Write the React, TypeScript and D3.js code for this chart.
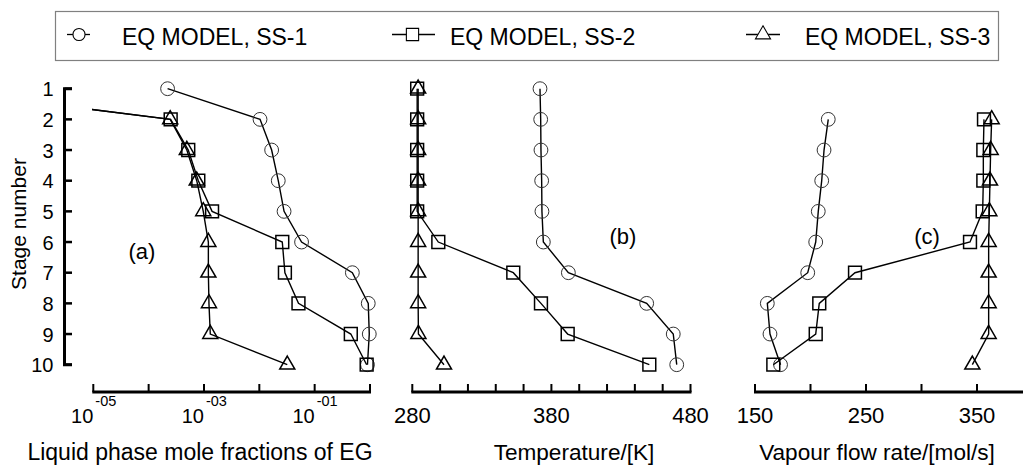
import * as d3 from 'd3';
import React from 'react';

const width = 1023;
const height = 466;
const font = '"Liberation Sans", Arial, Helvetica, sans-serif';
const axisY = 392; // baseline of all three x axes

// stage numbers, top of column (1) to bottom (10)
const stages = [1, 2, 3, 4, 5, 6, 7, 8, 9, 10];
const seriesNames = ['EQ MODEL, SS-1', 'EQ MODEL, SS-2', 'EQ MODEL, SS-3'];

// (a) liquid phase mole fraction of EG, stage 1 of SS-2 / SS-3 is far off scale
const egSS1 = [2.2e-4, 1.03e-2, 1.67e-2, 2.2e-2, 2.8e-2, 5.8e-2, 0.48, 0.93, 0.97, 0.9];
const egSS2 = [1.0e-8, 2.5e-4, 5.2e-4, 7.9e-4, 1.4e-3, 2.6e-2, 2.9e-2, 5.1e-2, 0.45, 0.87];
const egSS3 = [1.0e-8, 2.45e-4, 4.9e-4, 7.4e-4, 9.7e-4, 1.2e-3, 1.2e-3, 1.23e-3, 1.3e-3, 3.2e-2];

// (b) temperature, K
const tempSS1 = [371.8, 372.3, 372.5, 373.0, 373.2, 374.2, 392.2, 448.5, 467.6, 470.1];
const tempSS2 = [283.5, 283.5, 283.5, 283.5, 283.5, 298.7, 352.6, 372.5, 391.7, 450.4];
const tempSS3 = [284.2, 284.2, 284.2, 284.2, 284.2, 284.2, 284.2, 284.2, 284.4, 302.8];

// (c) vapour flow rate, mol/s (no vapour leaving stage 1)
const vapSS1 = [null, 216.0, 212.2, 210.1, 207.0, 204.7, 197.5, 161.1, 163.5, 173.0];
const vapSS2 = [null, 356.3, 355.7, 355.7, 355.1, 343.7, 240.1, 207.9, 204.7, 166.5];
const vapSS3 = [null, 363.2, 362.3, 361.7, 361.1, 360.5, 360.5, 360.5, 360.5, 345.8];

// ticks
const egTicks = [1e-5, 1e-4, 1e-3, 1e-2, 1e-1, 1];
const egLabelValues = [1e-5, 1e-3, 1e-1];
const egLabelExps = ['-05', '-03', '-01'];
const tempTicks = [280, 300, 320, 340, 360, 380, 400, 420, 440, 460, 480];
const tempLabels = [280, 380, 480];
const vapTicks = [150, 200, 250, 300, 350, 400];
const vapLabels = [150, 250, 350];

const yScale = d3.scaleLinear().domain([1, 10]).range([88.7, 364.7]);
const xEG = d3.scaleLog().domain([1e-5, 1]).range([93.3, 370]);
const xTemp = d3.scaleLinear().domain([280, 480]).range([412.3, 690.5]);
const xVap = d3.scaleLinear().domain([150, 400]).range([755, 1032.5]);

const symbols = [d3.symbolCircle, d3.symbolSquare, d3.symbolTriangle];
const symbolSizes = [150, 165, 98];
const symbolPaths = symbols.map((s, i) => d3.symbol().type(s).size(symbolSizes[i])());

function Series({ xScale, values, idx }) {
  const pts = stages
    .map((s, i) => ({ s, v: values[i] }))
    .filter(d => d.v != null);
  const line = d3
    .line()
    .x(d => xScale(d.v))
    .y(d => yScale(d.s));
  return (
    <g>
      <path d={line(pts)} fill="none" stroke="#000" strokeWidth={1.4} />
      {pts.map(d => (
        <path
          key={d.s}
          d={symbolPaths[idx]}
          transform={`translate(${xScale(d.v)},${yScale(d.s)})`}
          fill="none"
          stroke={idx === 0 ? '#333' : '#000'}
          strokeWidth={idx === 0 ? 1 : 1.5}
        />
      ))}
    </g>
  );
}

function XAxis({ scale, ticks, x1 }) {
  const x0 = scale(ticks[0]);
  return (
    <g>
      <line x1={x0 - 1} x2={x1} y1={axisY} y2={axisY} stroke="#000" strokeWidth={3} />
      {ticks.map(t => (
        <line key={t} x1={scale(t)} x2={scale(t)} y1={axisY} y2={axisY - 8} stroke="#000" strokeWidth={2} />
      ))}
    </g>
  );
}

export default function App() {
  const legendX = [
    { x1: 67, x2: 90, m: 79, t: 122 },
    { x1: 392, x2: 435, m: 412.5, t: 450 },
    { x1: 746, x2: 780, m: 763, t: 805 }
  ];

  return (
    <div style={{ position: 'absolute', left: 0, top: 0 }}>
      <svg width={width} height={height} style={{ display: 'block', fontFamily: font }}>
        <defs>
          <clipPath id="clipA">
            <rect x={92} y={0} width={300} height={height} />
          </clipPath>
        </defs>
        <rect width={width} height={height} fill="#fff" />

        {/* legend */}
        <rect x={55.5} y={11.5} width={943} height={49} fill="none" stroke="#808080" strokeWidth={1.2} />
        {seriesNames.map((name, i) => (
          <g key={name}>
            <line x1={legendX[i].x1} x2={legendX[i].x2} y1={34.5} y2={34.5} stroke="#000" strokeWidth={1.3} />
            <path
              d={d3.symbol().type(symbols[i]).size([115, 150, 98][i])()}
              transform={`translate(${legendX[i].m},34.5)`}
              fill="#fff"
              stroke="#000"
              strokeWidth={1.1}
            />
            <text x={legendX[i].t} y={45} fontSize={23}>{name}</text>
          </g>
        ))}

        {/* stage axis, drawn as a bracket */}
        <path
          d={`M72,${yScale(1)} H64.5 V${yScale(10)} H72`}
          fill="none"
          stroke="#000"
          strokeWidth={3}
        />
        {stages.map(s => (
          <g key={s}>
            <line x1={64.5} x2={72} y1={yScale(s)} y2={yScale(s)} stroke="#000" strokeWidth={2.5} />
            <text x={53.5} y={yScale(s) + 7.5} fontSize={20} textAnchor="end">{s}</text>
          </g>
        ))}
        <text transform="translate(26,224) rotate(-90)" fontSize={21} textAnchor="middle">
          Stage number
        </text>

        {/* (a) mole fractions */}
        <g clipPath="url(#clipA)">
          <Series xScale={xEG} values={egSS1} idx={0} />
          <Series xScale={xEG} values={egSS2} idx={1} />
          <Series xScale={xEG} values={egSS3} idx={2} />
        </g>
        <XAxis scale={xEG} ticks={egTicks} x1={xEG(1) + 1} />
        {egLabelValues.map((v, i) => (
          <g key={v}>
            <text x={xEG(v)} y={423} fontSize={20} textAnchor="end">10</text>
            <text x={xEG(v) + 2} y={406} fontSize={14.5}>{egLabelExps[i]}</text>
          </g>
        ))}
        <text x={142} y={259} fontSize={22} textAnchor="middle">(a)</text>
        <text x={200} y={460} fontSize={23} textAnchor="middle">Liquid phase mole fractions of EG</text>

        {/* (b) temperature */}
        <Series xScale={xTemp} values={tempSS1} idx={0} />
        <Series xScale={xTemp} values={tempSS2} idx={1} />
        <Series xScale={xTemp} values={tempSS3} idx={2} />
        <XAxis scale={xTemp} ticks={tempTicks} x1={xTemp(480) + 1} />
        {tempLabels.map(v => (
          <text key={v} x={xTemp(v)} y={423} fontSize={22} textAnchor="middle">{v}</text>
        ))}
        <text x={623} y={244} fontSize={22} textAnchor="middle">(b)</text>
        <text x={574} y={460} fontSize={22.6} textAnchor="middle">Temperature/[K]</text>

        {/* (c) vapour flow */}
        <Series xScale={xVap} values={vapSS1} idx={0} />
        <Series xScale={xVap} values={vapSS2} idx={1} />
        <Series xScale={xVap} values={vapSS3} idx={2} />
        <XAxis scale={xVap} ticks={vapTicks} x1={width} />
        {vapLabels.map(v => (
          <text key={v} x={xVap(v)} y={423} fontSize={22} textAnchor="middle">{v}</text>
        ))}
        <text x={927} y={244} fontSize={22} textAnchor="middle">(c)</text>
        <text x={877} y={460} fontSize={22.6} textAnchor="middle">Vapour flow rate/[mol/s]</text>
      </svg>
    </div>
  );
}
